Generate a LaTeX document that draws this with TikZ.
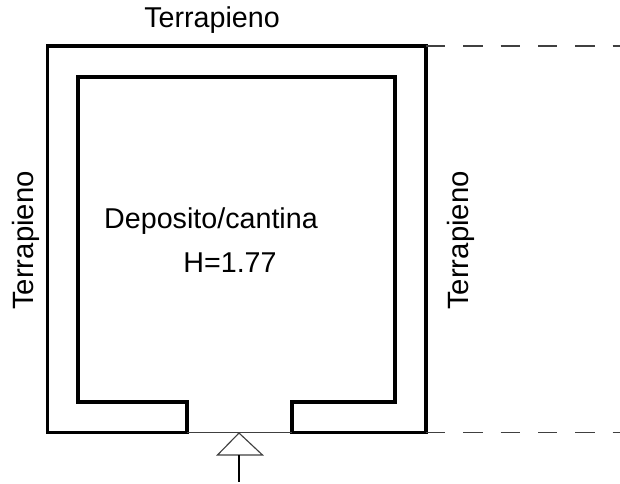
\documentclass[tikz,border=0pt]{standalone}
\usepackage{fontspec}
\setmainfont{Liberation Sans}
\tikzset{
  wall/.style={line width=2.4pt,line cap=rect,line join=miter,black},
  thin/.style={line width=0.85pt,black!75},
  dashline/.style={line width=0.85pt,black!75,dash pattern=on 14.6pt off 13.4pt},
  lab/.style={inner sep=0pt,anchor=center,font=\fontsize{21.5pt}{24pt}\selectfont},
  vlab/.style={inner sep=0pt,anchor=center,rotate=90,font=\fontsize{22pt}{24pt}\selectfont},
}
\begin{document}
\begin{tikzpicture}[x=0.75pt,y=-0.75pt]
\useasboundingbox (0,0) rectangle (620,483);
\fill[white] (0,0) rectangle (620,483);
% walls
\draw[wall] (187,432.5) -- (47.5,432.5) -- (47.5,46) -- (426,46) -- (426,432.5) -- (292,432.5) -- (292,402) -- (395,402) -- (395,77) -- (78,77) -- (78,402) -- (187,402) -- cycle;
% threshold
\draw[thin] (187,432.5) -- (292,432.5);
% dashed extension lines
\draw[dashline] (426,46) -- (620,46);
\draw[dashline] (426,432.5) -- (620,432.5);
% entrance arrow
\draw[thin,line join=miter] (239,433) -- (217.5,455) -- (262.5,455) -- cycle;
\draw[thin,black] (239,455) -- (239,482);
% labels
\node[lab] (top) at (212,20.5) {Terrapieno};
\node[vlab] (left) at (25.5,240.5) {Terrapieno};
\node[vlab] (right) at (460.5,240.5) {Terrapieno};
\node[lab] (room) at (211,221) {Deposito/cantina};
\node[lab] (h) at (230,263) {H=1.77};
\end{tikzpicture}
\end{document}
